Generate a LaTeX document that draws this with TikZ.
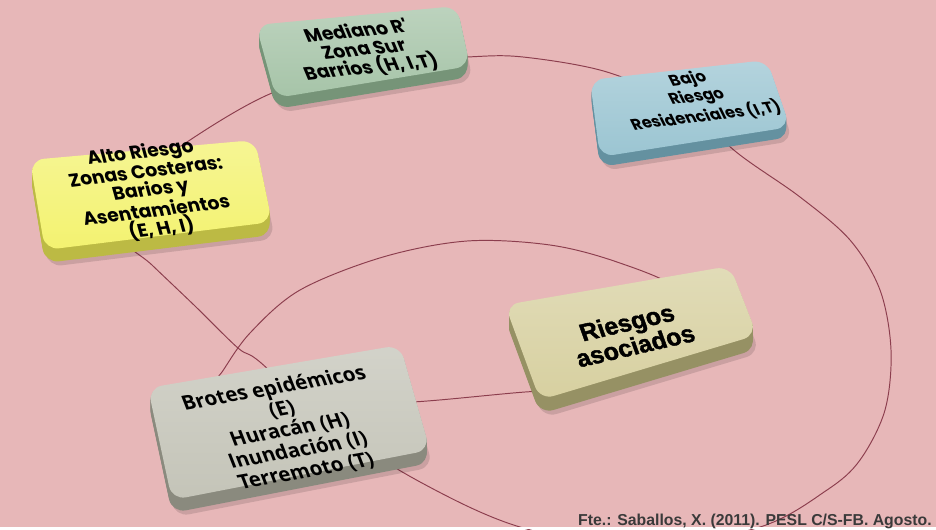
\documentclass[tikz,border=0pt]{standalone}
\usepackage{fontspec}
\setmainfont{Liberation Sans}
\newfontfamily\cajafont{Poppins}
\newfontfamily\brotesfont{Open Sans}
\newfontfamily\negrafont{Liberation Sans}[BoldFeatures={FakeBold=1.6}]
\definecolor{fondo}{RGB}{231,183,184}
\definecolor{lazocol}{RGB}{140,62,78}
\definecolor{verdecaja}{RGB}{166,196,168}
\definecolor{verdelado}{RGB}{118,148,120}
\definecolor{azulcaja}{RGB}{155,197,210}
\definecolor{azullado}{RGB}{100,145,160}
\definecolor{amarillocaja}{RGB}{243,242,112}
\definecolor{amarillolado}{RGB}{188,186,68}
\definecolor{arenacaja}{RGB}{215,208,160}
\definecolor{arenalado}{RGB}{150,145,100}
\definecolor{griscaja}{RGB}{196,196,184}
\definecolor{grislado}{RGB}{138,138,126}
\definecolor{pie}{RGB}{58,58,58}

\begin{document}
\begin{tikzpicture}[x=0.02cm, y=-0.02cm,
	lazo/.style={draw=lazocol, line width=0.55pt},
	texto/.style={align=center, inner sep=0pt, text=black}]
	
	% fondo
	\fill[fondo] (0,0) rectangle (936,529);
	\useasboundingbox (0,0) rectangle (936,529);
	\clip (0,0) rectangle (936,529);
	
	% losa: cara, lado, grosor, cuatro esquinas
	\def\losa#1#2#3#4#5#6#7{%
		\fill[black, opacity=0.12, rounded corners=8pt, shift={(3,#3+4)}] (#4) -- (#5) -- (#6) -- (#7) -- cycle;
		\foreach \s in {1,...,#3}
		\fill[#2, rounded corners=8pt, shift={(0,\s)}] (#4) -- (#5) -- (#6) -- (#7) -- cycle;
		\shade[top color=#1!75!white, bottom color=#1, rounded corners=8pt] (#4) -- (#5) -- (#6) -- (#7) -- cycle;
	}
	
	% lazo grande
	\draw[lazo] plot[smooth cycle, tension=0.55] coordinates {(140,180) (190,140) (272,93) (370,64) (467,57) (523,57) (607,72) (680,105) (740,155) (800,197) (850,240) (880,290) (891,350) (885,410) (860,460) (827,490) (760,527) (640,548) (520,527) (422,483) (330,425) (260,362) (238,348) (195,306) (152,265) (118,232)};
	
	% lazo chico
	\draw[lazo] plot[smooth cycle, tension=0.55] coordinates {(222,372) (250,333) (300,290) (383,257) (467,241) (550,245) (617,262) (680,290) (705,335) (660,372) (600,388) (525,392) (413,402) (310,405) (235,398) (214,384)};
	
	% cajas
	\losa{verdecaja}{verdelado}{11}{256,25}{457,6}{470,66}{276,98}
	\losa{azulcaja}{azullado}{10}{590,80}{767,60}{790,127}{600,157}
	\losa{amarillocaja}{amarillolado}{13}{30,160}{255,140}{272,222}{45,250}
	\losa{arenacaja}{arenalado}{14}{505,305}{730,266}{757,335}{540,400}
	\losa{griscaja}{grislado}{13}{148,388}{400,345}{430,450}{172,500}
	
	% textos
	\node[texto, rotate=6, xslant=-0.3, font=\cajafont\bfseries\fontsize{10.5}{10.6}\selectfont] (mediano) at (364,50) {Mediano R'\\ Zona Sur\\ Barrios (H, I,T)};
	\node[texto, rotate=7, xslant=-0.35, font=\cajafont\bfseries\fontsize{9}{9.6}\selectfont] (bajo) at (697,98) {Bajo\\ Riesgo\\ Residenciales (I,T)};
	\node[texto, rotate=7, xslant=-0.15, font=\cajafont\bfseries\fontsize{10.6}{10.4}\selectfont] (alto) at (151,191) {Alto Riesgo\\ Zonas Costeras:\\ Barios y\\ Asentamientos\\ (E, H, I)};
	\node[texto, rotate=13, xslant=-0.12, font=\negrafont\bfseries\fontsize{14}{14}\selectfont] (riesgos) at (631,334) {Riesgos\\ asociados};
	\node[texto, rotate=10, xslant=-0.2, font=\brotesfont\bfseries\fontsize{11.5}{12.4}\selectfont] (brotes) at (290,430) {Brotes epidémicos\\ (E)\\ Huracán (H)\\ Inundación (I)\\ Terremoto (T)};
	
	% fuente
	\fill[white] (0,527) rectangle (936,529);
	\node[anchor=base east, inner sep=0pt, text=pie, font=\bfseries\fontsize{9}{11}\selectfont] (fuente) at (932,525) {Fte.: Saballos, X. (2011). PESL C/S-FB. Agosto.};
	
\end{tikzpicture}
\end{document}
